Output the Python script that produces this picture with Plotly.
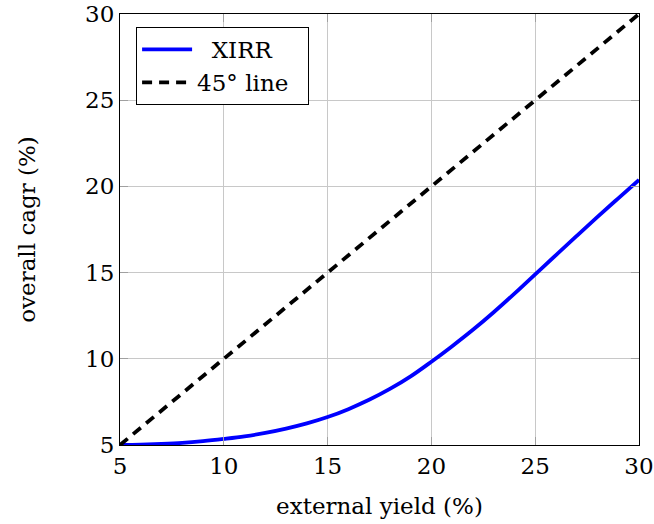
import plotly.graph_objects as go

external_yield = [5, 6, 7, 8, 9, 10, 11, 12, 13, 14, 15, 16, 17, 18, 19, 20,
                  21, 22, 23, 24, 25, 26, 27, 28, 29, 30]
xirr = [5.00, 5.02, 5.06, 5.12, 5.22, 5.35, 5.50, 5.70, 5.95, 6.25, 6.62,
        7.08, 7.62, 8.25, 8.98, 9.83, 10.73, 11.68, 12.70, 13.78, 14.90,
        16.02, 17.13, 18.23, 19.31, 20.38]
line45_x = [5, 30]
line45_y = [5, 30]
tick_vals = [5, 10, 15, 20, 25, 30]

FONT = "DejaVu Serif"
FS = 23
NB = "\u00a0"

fig = go.Figure()
fig.add_trace(go.Scatter(x=external_yield, y=xirr, mode="lines",
                         name=NB * 2 + "XIRR",
                         line=dict(color="#0000ff", width=3.8, shape="spline")))
fig.add_trace(go.Scatter(x=line45_x, y=line45_y, mode="lines",
                         name="45° line" + NB * 2,
                         line=dict(color="black", width=3.8, dash="10px,7px")))

axis_common = dict(
    range=[5, 30], tickvals=tick_vals, showgrid=True, gridcolor="#c8c8c8",
    gridwidth=1, zeroline=False, showline=True, linecolor="black", linewidth=1.2,
    mirror="allticks", ticks="inside", ticklen=8, tickcolor="#a0a0a0",
    tickfont=dict(family=FONT, size=FS, color="black"), automargin=True,
)

fig.update_layout(
    width=654, height=524,
    margin=dict(l=120, r=15, t=14, b=79, autoexpand=False),
    paper_bgcolor="white", plot_bgcolor="white",
    font=dict(family=FONT, size=FS, color="black"),
    showlegend=True,
    legend=dict(x=0.031, y=0.97, xanchor="left", yanchor="top",
                bgcolor="white", bordercolor="black", borderwidth=1,
                font=dict(family=FONT, size=FS, color="black"),
                itemwidth=50, tracegroupgap=0),
    xaxis=dict(axis_common, title=dict(text="external yield (%)", standoff=20,
                                       font=dict(family=FONT, size=FS))),
    yaxis=dict(axis_common, title=dict(text="overall cagr (%)", standoff=42,
                                       font=dict(family=FONT, size=FS))),
)

fig.write_html("out.html",
               config={"displayModeBar": False},
               post_script="document.body.style.margin='0px';"
                           "document.body.style.overflow='hidden';")
